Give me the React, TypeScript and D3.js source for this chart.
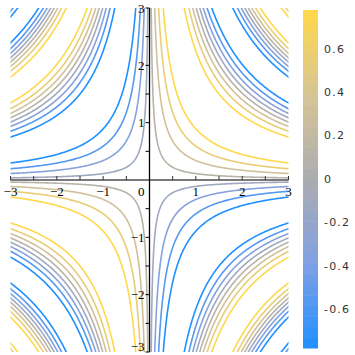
import React from 'react'
import * as d3 from 'd3'

// contour levels (8 evenly spaced, extremes excluded) and labels
const levels = [-0.778, -0.556, -0.333, -0.111, 0.111, 0.333, 0.556, 0.778]
const xTickLabels = [-3, -2, -1, 1, 2, 3]
const yTickLabels = [-3, -2, -1, 1, 2, 3]
const minorTicks = [-3, -2.5, -2, -1.5, -1, -0.5, 0.5, 1, 1.5, 2, 2.5, 3]
const barTicks = [-0.6, -0.4, -0.2, 0, 0.2, 0.4, 0.6]
const colorDomain = [-0.778, -0.39, 0, 0.39, 0.778]
const colorStops = ['#1E90FF', '#7FA0E4', '#ACACB0', '#D6C596', '#FFD84A']

// surface that is contoured
const surface = (x: number, y: number) => Math.sin(x * y)

const W = 355
const H = 355

export default function App() {
  const x = d3.scaleLinear().domain([-3, 3]).range([10.5, 288.5])
  const y = d3.scaleLinear().domain([-3, 3]).range([352, 8])
  const color = d3.scaleLinear<string>()
    .domain(colorDomain)
    .range(colorStops)
    .interpolate(d3.interpolateRgb)
    .clamp(true)

  // sample a grid a bit larger than the plot so the border edges get clipped
  const g0 = -3.2
  const step = 0.02
  const n = 321
  const values = new Array(n * n)
  for (let j = 0; j < n; j++) {
    for (let i = 0; i < n; i++) {
      values[j * n + i] = surface(g0 + i * step, g0 + j * step)
    }
  }
  const contours = d3.contours().size([n, n]).thresholds(levels)(values)
  const path = d3.geoPath(d3.geoTransform({
    point(px: number, py: number) {
      this.stream.point(x(g0 + (px - 0.5) * step), y(g0 + (py - 0.5) * step))
    }
  }))

  // colorbar
  const bar = d3.scaleLinear().domain([levels[0], levels[levels.length - 1]]).range([348, 10])
  const nSteps = 32
  const stepH = (bar.range()[0] - bar.range()[1]) / nSteps
  const steps = d3.range(nSteps).map((k) => {
    const v = levels[0] + (k + 0.5) * (levels[levels.length - 1] - levels[0]) / nSteps
    return { v, y0: bar.range()[0] - (k + 1) * stepH }
  })

  const fmt = (t: number) => (t < 0 ? '\u2212' + Math.abs(t) : String(t))

  return (
    <svg width={W} height={H} style={{ position: 'absolute', left: 0, top: 0, background: '#fff' }}>
      <defs>
        <clipPath id="plotclip">
          <rect x={x(-3)} y={y(3)} width={x(3) - x(-3)} height={y(-3) - y(3)} />
        </clipPath>
      </defs>
      <g clipPath="url(#plotclip)">
        {contours.map((c, i) => (
          <path key={i} d={path(c as any) || ''} fill="none" stroke={color(c.value)} strokeWidth={1.6} />
        ))}
      </g>

      {/* axes */}
      <line x1={x(-3)} x2={x(3)} y1={y(0)} y2={y(0)} stroke="#7a7a7a" strokeWidth={2} />
      {minorTicks.map((t) => (
        <line key={'xt' + t} x1={x(t)} x2={x(t)} y1={y(0)} y2={y(0) - 4} stroke="#333" strokeWidth={1} />
      ))}
      <line x1={x(0)} x2={x(0)} y1={y(3)} y2={y(-3)} stroke="#000" strokeWidth={1.3} />
      {minorTicks.map((t) => (
        <line key={'yt' + t} x1={x(0)} x2={x(0) - 4} y1={y(t)} y2={y(t)} stroke="#000" strokeWidth={1} />
      ))}
      <g fontFamily="Liberation Serif" fontSize={13} fill="#000">
        {xTickLabels.map((t) => (
          <text key={'xl' + t} x={x(t)} y={196} textAnchor="middle">{fmt(t)}</text>
        ))}
        {yTickLabels.map((t) => (
          <text key={'yl' + t} x={x(0) - 5} y={t === -3 ? y(t) - 6 : y(t)} dy="0.35em" textAnchor="end">{fmt(t)}</text>
        ))}
        <text x={x(0) - 5} y={196} textAnchor="end">0</text>
      </g>

      {/* colorbar */}
      {steps.map((s, k) => (
        <rect key={'cb' + k} x={303} y={s.y0} width={15} height={stepH + 0.5} fill={color(s.v)} />
      ))}
      <g fontFamily="DejaVu Sans" fontSize={11} fill="#333" letterSpacing={1.2}>
        {barTicks.map((t) => (
          <text key={'bl' + t} x={324} y={bar(t)} dy="0.35em">{t === 0 ? '0' : t.toFixed(1)}</text>
        ))}
      </g>
    </svg>
  )
}
